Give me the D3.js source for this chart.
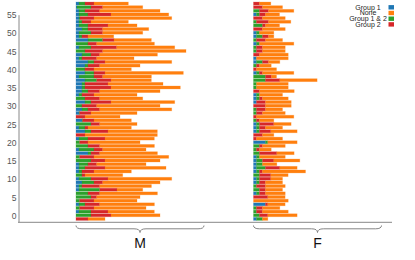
<!DOCTYPE html>
<html>
<head>
<meta charset="utf-8">
<script src="https://cdn.jsdelivr.net/npm/d3@7"></script>
<style>
  body { margin: 0; background: #fff; }
  text { font-family: "Liberation Sans", Arial, sans-serif; }
</style>
</head>
<body>
<svg id="chart" width="415" height="260"></svg>
<script>
const panels = ['M', 'F']
const panelStart = { M: 0, F: 177.5 }
const braceSpan = 128
const yTicks = d3.range(0, 56, 5)
const legendNames = ['Group 1', 'None', 'Group 1 & 2', 'Group 2']

// every list runs from the top row (59) down to row 0
const mGroup1 = [3,1,3,3,3,3,3,6,3,3,12,0,3,0,6,3,12,9,0,9,3,9,6,6,6,3,0,9,0,6,3,0,6,0,3,9,0,3,0,0,3,12,0,0,3,3,3,0,3,6,3,3,0,0,0,3,0,3,0,0]
const mGroup12 = [6,14,6,9,1,3,9,6,12,3,14.7,12,12,9,9,3,6,3,9,9,15,11.7,3,3,6,3,9,6,6,6,0.7,0,0.7,15,6,6,0,9,3.7,12,15,3,3.7,15,9,6,3,6,12,12,3,20.7,12,15,3.7,6,3.7,12,15,0]
const mGroup2 = [9,11.7,14.7,23,14,9,20,14.7,11.7,6,11.3,8.7,25.7,17.7,8.7,14.7,11,11.7,9,11,8.7,14.3,23,26,11.7,12,14.7,20,14.7,11.7,11.3,9,11.3,8.7,3,17,9,17,8.3,11.7,8.7,8.7,14.3,14,8.7,20,12,3,17,8.7,17.7,17.3,11.7,5.7,14.3,14.7,14.3,17,20,12]
const mNone = [34.3,40,60.3,57.7,77.7,37.3,29,46,40,25.7,37.3,57.7,58,83.3,57.7,37.3,66.7,40.3,37.3,78.3,48.7,40.3,55,69.3,60.3,43,43,63.7,63.3,72,46,35,37.3,37.3,43.3,49.3,72.3,49.3,52,54.7,43.3,57.7,74.7,55,49.3,61,37.3,37.7,63.7,57.3,51.7,25.7,57.7,43.3,43,54.7,52,46.3,49,17]

const fGroup1 = [0,0,0,3,0,0,0,0,3,3,0,3,0,0,0,3,3,0,0,3,0,0,0,0,0,3,3,3,0,0,0,0,0,3,3,3,0,0,12,0,0,0,3,3,3,3,3,0,3,3,0,0,3,0,0,12,0,0,0,3]
const fGroup12 = [0,0,6,3,0,3,9,0,3,6,3,3,3,3,0,0,6,3,0,3,12,12,3,3,0,3,3,0,0,3,3,0,3,3,3,3,0,0,2.3,6,3,6,3,6,6,9,3,6,3,3,3,6,3,0,0,0,3,3,6,6]
const fGroup2 = [6,9,9,6,9,12,3,9,0,6,9,0,6,6,6,0,6,3,3,3,6,14.3,0,0,6,0,3,9,12,9,6,3,3,14.3,6,11.3,9,3,0,3,3,17.3,0,11.3,0,14.3,3,11.3,11.3,6,9,6,6,14.3,0,2.3,6,6,8.3,0]
const fNone = [11.3,20,25.3,14,22.7,22.3,14,22.7,14.3,5.3,17,34.3,22.7,22.7,28.7,31.7,11.3,11.7,20,31.3,5,37.3,31.7,31.7,34.7,23,25.7,25.7,25.7,17,22.7,37.3,14.3,17.3,17,26.3,11.3,26,29.3,22.7,11.7,17.3,25.7,26,14.3,17.3,43,17.3,11.7,17,19.7,17,19.7,17.3,34.7,17.3,17.3,25.7,29.3,5.3]

const colors = { 'Group 1': '#1f77b4', 'None': '#ff7f0e', 'Group 1 & 2': '#2ca02c', 'Group 2': '#d62728' }
const stackOrder = ['Group 1', 'Group 1 & 2', 'Group 2', 'None']

const source = {
  M: { 'Group 1': mGroup1, 'Group 1 & 2': mGroup12, 'Group 2': mGroup2, 'None': mNone },
  F: { 'Group 1': fGroup1, 'Group 1 & 2': fGroup12, 'Group 2': fGroup2, 'None': fNone }
}
const nRows = mNone.length

let svg = d3.select('#chart')

let x = d3.scaleLinear().domain([0, 316]).range([76, 392])
let y = d3.scaleLinear().domain([0, 55]).range([216, 15.2])

let stack = d3.stack().keys(stackOrder)

panels.forEach(p => {
  let rows = d3.range(nRows).map(i => {
    let r = { row: nRows - 1 - i }
    stackOrder.forEach(k => { r[k] = source[p][k][i] })
    return r
  })
  let series = stack(rows)
  let g = svg.append('g').attr('class', 'panel-' + p)
  series.forEach(s => {
    g.selectAll('rect.s' + stackOrder.indexOf(s.key))
      .data(s.filter(d => d[1] > d[0]))
      .enter().append('rect')
      .attr('x', d => x(panelStart[p] + d[0]))
      .attr('width', d => x(panelStart[p] + d[1]) - x(panelStart[p] + d[0]))
      .attr('y', d => y(d.data.row - 0.4))
      .attr('height', y(0) - y(0.8))
      .attr('fill', colors[s.key])
      .attr('stroke', colors[s.key])
      .attr('stroke-opacity', 0.3)
      .attr('stroke-width', 0.8)
  })

  // curly brace under each group
  let x1 = x(panelStart[p]), x2 = x(panelStart[p] + braceSpan)
  let m = (x1 + x2) / 2, q = 6
  let yTop = 225.5, yMid = 228.8, yTip = 232.5
  svg.append('path')
    .attr('d', `M${x1},${yTop} Q${x1},${yMid} ${x1 + q},${yMid} L${m - q},${yMid} Q${m},${yMid} ${m},${yTip} Q${m},${yMid} ${m + q},${yMid} L${x2 - q},${yMid} Q${x2},${yMid} ${x2},${yTop}`)
    .attr('fill', 'none')
    .attr('stroke', '#777')
    .attr('stroke-width', 0.9)
  svg.append('text')
    .attr('x', m)
    .attr('y', 247.8)
    .attr('text-anchor', 'middle')
    .attr('font-size', 14)
    .attr('fill', '#111')
    .text(p)
})

// axes
svg.append('line')
  .attr('x1', 19).attr('x2', 19)
  .attr('y1', y(55)).attr('y2', 222.3)
  .attr('stroke', '#888').attr('stroke-width', 1)
svg.append('line')
  .attr('x1', 18).attr('x2', 392)
  .attr('y1', 222.3).attr('y2', 222.3)
  .attr('stroke', '#888').attr('stroke-width', 1)

svg.append('g').selectAll('text').data(yTicks).enter().append('text')
  .attr('x', 16.5)
  .attr('y', d => y(d))
  .attr('dy', '0.35em')
  .attr('text-anchor', 'end')
  .attr('font-size', 8.5)
  .attr('fill', '#555')
  .text(d => d)

// legend
let legend = svg.append('g').selectAll('.legends').data(legendNames).enter()
  .append('g').classed('legends', true)
  .attr('transform', (d, i) => `translate(0,${7.3 + i * 5.7})`)
legend.append('rect')
  .attr('x', 388.5).attr('y', -2.2)
  .attr('width', 5.5).attr('height', 4.4)
  .attr('fill', d => colors[d])
legend.append('text')
  .attr('x', 368)
  .attr('dy', '0.35em')
  .attr('text-anchor', 'middle')
  .attr('font-size', 7)
  .attr('fill', '#222')
  .text(d => d)
</script>
</body>
</html>
